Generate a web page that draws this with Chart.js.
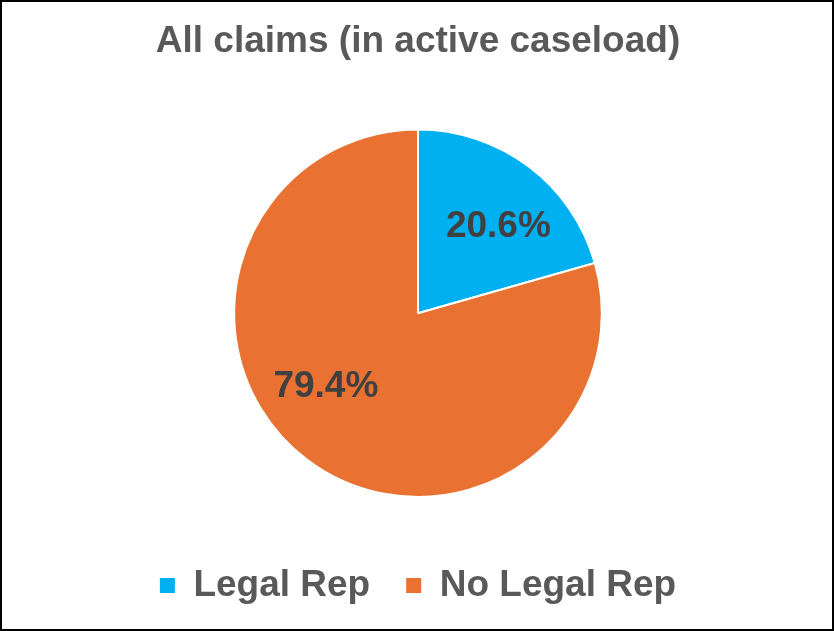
<!DOCTYPE html>
<html>
<head>
<meta charset="utf-8">
<script src="https://cdn.jsdelivr.net/npm/chart.js@4"></script>
<style>
  body { margin: 0; background: #fff; }
  #wrap { position: relative; width: 834px; height: 631px; }
  #frame { position: absolute; left: 0; top: 0; right: 0; bottom: 0; border: 2px solid #000; pointer-events: none; }
</style>
</head>
<body>
<div id="wrap">
  <canvas id="pieChart" width="834" height="631"></canvas>
  <div id="frame"></div>
</div>
<script>
const categories = ["Legal Rep", "No Legal Rep"];
const shares = [20.6, 79.4];
const sliceColors = ["#00B0F0", "#E97132"];

const FONT = "'Liberation Sans', Arial, sans-serif";

// percentage labels inside the slices (Excel "best fit" style)
const sliceLabels = {
  id: "sliceLabels",
  afterDatasetsDraw(chart, args, opts) {
    const ctx = chart.ctx;
    const meta = chart.getDatasetMeta(0);
    ctx.save();
    ctx.font = "bold " + opts.size + "px " + FONT;
    ctx.fillStyle = opts.color;
    ctx.textAlign = "center";
    ctx.textBaseline = "middle";
    meta.data.forEach((arc, i) => {
      const p = arc.getProps(["x", "y", "startAngle", "endAngle", "outerRadius"], true);
      const mid = (p.startAngle + p.endAngle) / 2 + (opts.shift[i] || 0) * Math.PI / 180;
      const r = p.outerRadius * opts.radius;
      const value = chart.data.datasets[0].data[i];
      ctx.fillText(value.toFixed(1) + "%", p.x + Math.cos(mid) * r, p.y + Math.sin(mid) * r);
    });
    ctx.restore();
  }
};

const baseLabels = Chart.overrides.pie.plugins.legend.labels.generateLabels;

new Chart(document.getElementById("pieChart"), {
  type: "pie",
  data: {
    labels: categories,
    datasets: [{
      data: shares,
      backgroundColor: sliceColors,
      borderColor: "#ffffff",
      borderWidth: 2,
      hoverOffset: 0
    }]
  },
  options: {
    responsive: false,
    animation: false,
    events: [],
    layout: { padding: { left: 2, right: 0, top: 0, bottom: 17 } },
    plugins: {
      title: {
        display: true,
        text: "All claims (in active caseload)",
        color: "#595959",
        font: { family: FONT, size: 37, weight: "bold" },
        padding: { top: 20, bottom: 64 }
      },
      legend: {
        position: "bottom",
        title: { display: true, text: "", font: { size: 33, lineHeight: 1 }, padding: 0 },
        labels: {
          color: "#595959",
          font: { family: FONT, size: 37, weight: "bold" },
          boxWidth: 15,
          boxHeight: 15,
          padding: 36,
          generateLabels(chart) {
            return baseLabels(chart).map(l => Object.assign(l, { lineWidth: 0 }));
          }
        }
      },
      tooltip: { enabled: false },
      sliceLabels: { size: 37, color: "#404040", radius: 0.64, shift: [6, 14.5] }
    }
  },
  plugins: [sliceLabels]
});
</script>
</body>
</html>
